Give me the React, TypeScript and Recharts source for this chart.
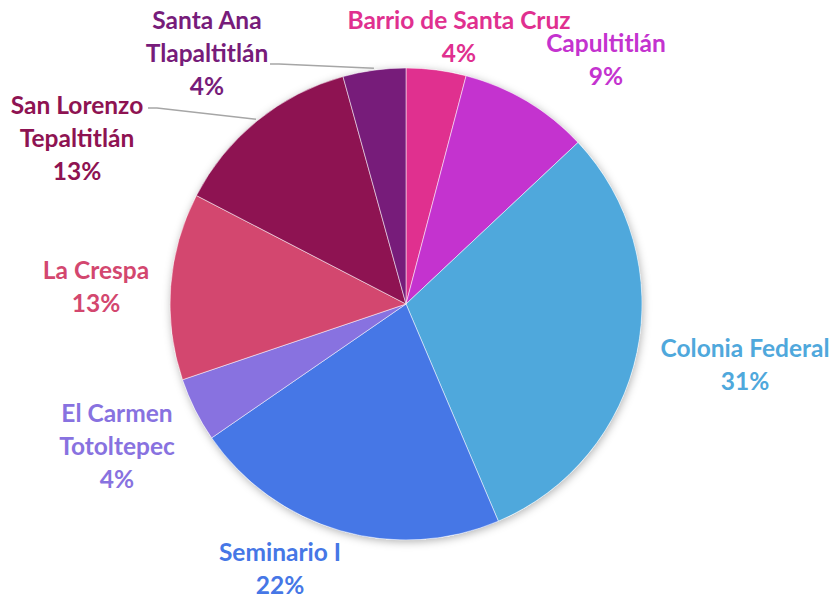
import React from "react";
import { PieChart, Pie, Cell } from "recharts";

document.body.style.margin = "0";

const NAMES = [
  "Barrio de Santa Cruz",
  "Capultitlán",
  "Colonia Federal",
  "Seminario I",
  "El Carmen Totoltepec",
  "La Crespa",
  "San Lorenzo Tepaltitlán",
  "Santa Ana Tlapaltitlán",
];
const VALUES = [4.1, 8.9, 30.6, 21.8, 4.4, 12.8, 13.1, 4.3];
const COLORS = [
  "#E0308F",
  "#C433CF",
  "#4FA8DC",
  "#4677E6",
  "#8872E0",
  "#D3476F",
  "#8E1352",
  "#771C7A",
];

const data = NAMES.map((name, i) => ({ name, value: VALUES[i] }));
const backdrop = [{ name: "bg", value: 1 }];

// label text split into lines, and where each block sits relative to the pie centre
const LABEL_LINES: Record<string, string[]> = {
  "El Carmen Totoltepec": ["El Carmen", "Totoltepec"],
  "San Lorenzo Tepaltitlán": ["San Lorenzo", "Tepaltitlán"],
  "Santa Ana Tlapaltitlán": ["Santa Ana", "Tlapaltitlán"],
};
const LABEL_OFFSET: Record<string, [number, number]> = {
  "Barrio de Santa Cruz": [53, -268],
  "Capultitlán": [200, -245],
  "Colonia Federal": [339, 60],
  "Seminario I": [-126, 264],
  "El Carmen Totoltepec": [-289, 141],
  "La Crespa": [-310, -18],
  "San Lorenzo Tepaltitlán": [-329, -167],
  "Santa Ana Tlapaltitlán": [-199, -252],
};
// labels pulled away from their slice get a leader line: start point relative to label centre
const LEADER: Record<string, [number, number]> = {
  "San Lorenzo Tepaltitlán": [71, -29],
  "Santa Ana Tlapaltitlán": [63, 12],
};

const RAD = Math.PI / 180;
const LINE_H = 33;

const renderLabel = (props: any) => {
  const { cx, cy, midAngle, outerRadius, name, value, index } = props;
  const lines = [...(LABEL_LINES[name] ?? [name]), `${Math.round(value)}%`];
  const [dx, dy] = LABEL_OFFSET[name];
  const x = cx + dx;
  const y = cy + dy;
  const top = y - ((lines.length - 1) * LINE_H) / 2;
  const leader = LEADER[name];
  let path = null;
  if (leader) {
    const sx = x + leader[0];
    const sy = y + leader[1];
    const ex = cx + (outerRadius + 2) * Math.cos(-midAngle * RAD);
    const ey = cy + (outerRadius + 2) * Math.sin(-midAngle * RAD);
    path = (
      <path
        d={`M${sx},${sy} L${sx + 9},${sy} L${ex},${ey}`}
        stroke="#A6A6A6"
        strokeWidth={1.5}
        fill="none"
      />
    );
  }
  return (
    <g key={`lbl-${index}`}>
      {path}
      <text
        x={x}
        y={top}
        fill={COLORS[index]}
        textAnchor="middle"
        fontFamily="Lato, 'Open Sans', sans-serif"
        fontWeight={700}
        fontSize={24.5}
      >
        {lines.map((t, i) => (
          <tspan key={i} x={x} y={top + i * LINE_H} dominantBaseline="central">
            {t}
          </tspan>
        ))}
      </text>
    </g>
  );
};

export default function App() {
  return (
    <div style={{ width: 833, height: 600, background: "#fff" }}>
      <PieChart width={833} height={600} margin={{ top: 0, right: 0, bottom: 0, left: 0 }}>
        <defs>
          <filter id="pieShadow" x="-20%" y="-20%" width="140%" height="140%">
            <feDropShadow dx="1" dy="2" stdDeviation="4" floodColor="#000" floodOpacity="0.3" />
          </filter>
        </defs>
        <Pie
          data={backdrop}
          dataKey="value"
          cx={406}
          cy={304}
          outerRadius={236}
          stroke="none"
          fill="#ffffff"
          filter="url(#pieShadow)"
          isAnimationActive={false}
          label={false}
          labelLine={false}
        />
        <Pie
          data={data}
          dataKey="value"
          nameKey="name"
          cx={406}
          cy={304}
          outerRadius={236}
          startAngle={90}
          endAngle={-270}
          stroke="#ffffff"
          strokeWidth={1}
          strokeOpacity={0.5}
          isAnimationActive={false}
          label={renderLabel}
          labelLine={false}
        >
          {data.map((d, i) => (
            <Cell key={d.name} fill={COLORS[i]} />
          ))}
        </Pie>
      </PieChart>
    </div>
  );
}
